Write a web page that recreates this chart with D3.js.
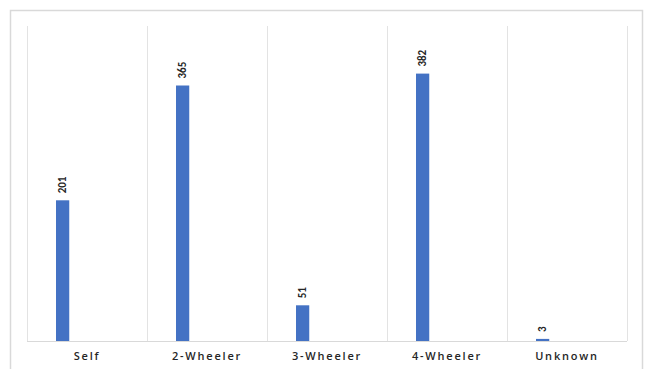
<!DOCTYPE html>
<html>
<head>
<meta charset="utf-8">
<script src="https://cdn.jsdelivr.net/npm/d3@7"></script>
<style>
  html, body { margin: 0; padding: 0; background: #fff; }
  svg { display: block; }
</style>
</head>
<body>
<svg id="chart" width="648" height="369"></svg>
<script>
// Vehicle type counts
const categories = ["Self", "2-Wheeler", "3-Wheeler", "4-Wheeler", "Unknown"];
const counts = [201, 365, 51, 382, 3];
const yMax = 450;

const svg = d3.select("#chart");
const W = 648, H = 369;
const plot = { left: 27, right: 627, top: 26, bottom: 341 };

// Outer frame (open at the bottom edge of the window)
svg.append("path")
  .attr("d", `M10.5,${H} V10.5 H642.5 V${H}`)
  .attr("fill", "none")
  .attr("stroke", "#d9d9d9")
  .attr("stroke-width", 1.5);

const x = d3.scaleBand()
  .domain(categories)
  .range([plot.left, plot.right])
  .paddingInner(0)
  .paddingOuter(0);

const y = d3.scaleLinear()
  .domain([0, yMax])
  .range([plot.bottom, plot.top]);

// Vertical category separators
const bounds = categories.map(c => x(c)).concat([x(categories[categories.length - 1]) + x.bandwidth()]);
svg.append("g").selectAll("line")
  .data(bounds)
  .join("line")
  .attr("x1", d => d + 0.5).attr("x2", d => d + 0.5)
  .attr("y1", plot.top).attr("y2", plot.bottom)
  .attr("stroke", "#e3e3e3")
  .attr("stroke-width", 1);

// Baseline
svg.append("line")
  .attr("x1", plot.left).attr("x2", plot.right)
  .attr("y1", plot.bottom + 0.5).attr("y2", plot.bottom + 0.5)
  .attr("stroke", "#d9d9d9")
  .attr("stroke-width", 1.2);

// Bars sit in the left part of each band
const barOffset = x.bandwidth() * 0.2417;
const barWidth = x.bandwidth() * 0.1104;

svg.append("g").selectAll("rect")
  .data(counts)
  .join("rect")
  .attr("x", (d, i) => x(categories[i]) + barOffset)
  .attr("y", d => y(d))
  .attr("width", barWidth)
  .attr("height", d => plot.bottom - y(d))
  .attr("fill", "#4472c4");

// Value labels, rotated above each bar
svg.append("g").selectAll("text")
  .data(counts)
  .join("text")
  .attr("transform", (d, i) => {
    const cx = x(categories[i]) + barOffset + barWidth / 2 + 3.5;
    const cy = y(d) - 7;
    return `translate(${cx},${cy}) rotate(-90)`;
  })
  .attr("text-anchor", "start")
  .attr("font-family", "Calibri, Carlito, 'Liberation Sans', Arial, sans-serif")
  .attr("font-size", 11)
  .attr("font-weight", "bold")
  .attr("fill", "#262626")
  .text(d => d);

// Category axis labels
const xAxis = d3.axisBottom(x).tickSize(0).tickPadding(0);
const gx = svg.append("g")
  .attr("transform", `translate(0,${plot.bottom})`)
  .call(xAxis);
gx.select(".domain").remove();
gx.selectAll("text")
  .attr("y", 19)
  .attr("dy", 0)
  .attr("font-family", "'Open Sans', 'Liberation Sans', Arial, sans-serif")
  .attr("font-size", 11)
  .attr("font-weight", 600)
  .attr("letter-spacing", "1.8px")
  .attr("fill", "#262626");
</script>
</body>
</html>
